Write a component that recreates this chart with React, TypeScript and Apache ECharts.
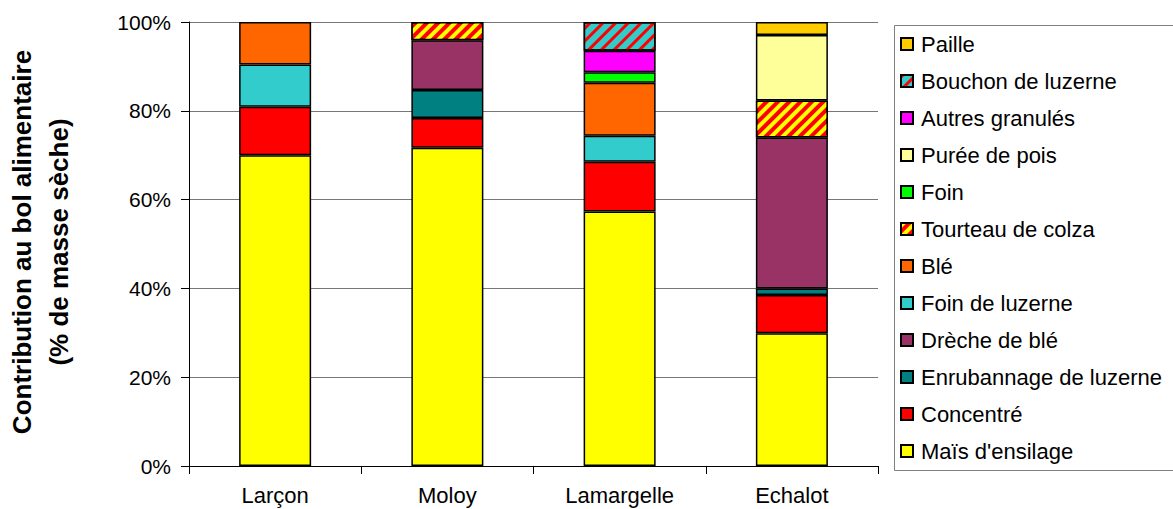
import React, { useEffect, useRef } from "react";
import * as echarts from "echarts";

const categories = ["Larçon", "Moloy", "Lamargelle", "Echalot"];
const seriesNames = [
  "Maïs d'ensilage",
  "Concentré",
  "Enrubannage de luzerne",
  "Drèche de blé",
  "Foin de luzerne",
  "Blé",
  "Tourteau de colza",
  "Foin",
  "Purée de pois",
  "Autres granulés",
  "Bouchon de luzerne",
  "Paille",
];
const maisEnsilage = [70.0, 71.7, 57.3, 29.9];
const concentre = [10.9, 6.7, 11.2, 8.6];
const enrubannage = [null, 6.3, null, 1.5];
const drecheBle = [null, 11.2, null, 34.0];
const foinLuzerne = [9.5, null, 5.9, null];
const ble = [9.6, null, 11.9, null];
const tourteauColza = [null, 4.1, null, 8.3];
const foin = [null, null, 2.4, null];
const pureePois = [null, null, null, 14.8];
const autresGranules = [null, null, 4.8, null];
const bouchonLuzerne = [null, null, 6.5, null];
const paille = [null, null, null, 2.9];
const yTicks = [0, 20, 40, 60, 80, 100];

const seriesValues = [
  maisEnsilage,
  concentre,
  enrubannage,
  drecheBle,
  foinLuzerne,
  ble,
  tourteauColza,
  foin,
  pureePois,
  autresGranules,
  bouchonLuzerne,
  paille,
];
const colors = [
  "#FFFF00",
  "#FF0000",
  "#008080",
  "#993366",
  "#33CCCC",
  "#FF6600",
  "#FF0000",
  "#00FF00",
  "#FFFF99",
  "#FF00FF",
  "#33CCCC",
  "#FFCC00",
];
const decals: Record<number, any> = {
  6: {
    symbol: "rect",
    symbolSize: 1,
    color: "#FFFF00",
    dashArrayX: [1, 0],
    dashArrayY: [4, 4],
    rotation: -Math.PI / 4,
  },
  10: {
    symbol: "rect",
    symbolSize: 1,
    color: "#FF0000",
    dashArrayX: [1, 0],
    dashArrayY: [3, 6],
    rotation: -Math.PI / 4,
  },
};

const FONT = "'Liberation Sans', Arial, sans-serif";

export default function App() {
  const ref = useRef<HTMLDivElement>(null);
  useEffect(() => {
    if (!ref.current) return;
    const chart = echarts.init(ref.current, undefined, { renderer: "svg" });
    chart.setOption({
      animation: false,
      backgroundColor: "#ffffff",
      textStyle: { fontFamily: FONT },
      grid: { left: 189, right: 295, top: 22, bottom: 43, containLabel: false },
      legend: {
        orient: "vertical",
        left: 892,
        top: 23,
        data: [...seriesNames].reverse(),
        itemWidth: 12,
        itemHeight: 12,
        itemGap: 15,
        padding: [10, 5, 7, 8],
        icon: "rect",
        textStyle: { fontSize: 22, color: "#000", fontFamily: FONT, padding: [0, 0, 0, 3] },
      },
      xAxis: {
        type: "category",
        data: categories,
        axisLine: { show: true, lineStyle: { color: "#000", width: 1 } },
        axisTick: { show: true, length: 8, lineStyle: { color: "#000" } },
        axisLabel: { fontSize: 22, color: "#000", margin: 18, fontFamily: FONT },
      },
      yAxis: {
        type: "value",
        min: 0,
        max: 100,
        interval: 20,
        axisLine: { show: true, lineStyle: { color: "#000", width: 1 } },
        axisTick: { show: true, length: 8, lineStyle: { color: "#000" } },
        axisLabel: {
          fontSize: 21,
          color: "#000",
          margin: 18,
          fontFamily: FONT,
          formatter: (v: number) => (yTicks.includes(v) ? v + "%" : ""),
        },
        splitLine: { show: true, lineStyle: { color: "#777", width: 1 } },
      },
      graphic: [
        {
          type: "rect",
          left: 892,
          top: 23,
          z: -1,
          shape: { width: 320, height: 445 },
          style: { fill: "none", stroke: "#808080", lineWidth: 1 },
        },
        {
          type: "text",
          x: 40,
          y: 242,
          rotation: Math.PI / 2,
          style: {
            text: "Contribution au bol alimentaire\n(% de masse sèche)",
            fontSize: 26,
            fontWeight: "bold",
            fontFamily: FONT,
            lineHeight: 37,
            fill: "#000",
            align: "center",
            verticalAlign: "middle",
          },
        },
      ],
      series: seriesNames.map((name, i) => ({
        name,
        type: "bar",
        stack: "total",
        barWidth: 72,
        data: seriesValues[i],
        itemStyle: {
          color: colors[i],
          borderColor: "#000",
          borderWidth: 1.5,
          decal: decals[i],
        },
      })),
    });
    return () => chart.dispose();
  }, []);
  return (
    <div
      ref={ref}
      style={{ position: "fixed", left: 0, top: 0, width: 1173, height: 509 }}
    />
  );
}
